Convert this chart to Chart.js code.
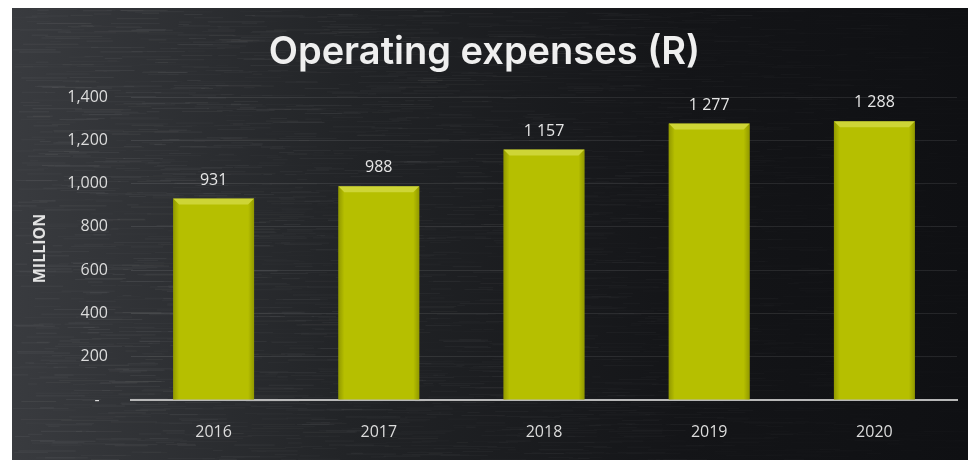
<!DOCTYPE html>
<html>
<head>
<meta charset="utf-8">
<title>Operating expenses (R)</title>
<script src="https://cdn.jsdelivr.net/npm/chart.js@4.4.1/dist/chart.umd.min.js"></script>
<style>
  html, body { margin: 0; padding: 0; background: #fff; }
  #wrap { width: 970px; height: 460px; }
</style>
</head>
<body>
<div id="wrap"><canvas id="grafico-despesas" width="970" height="460"></canvas></div>
<script>
var years = ["2016", "2017", "2018", "2019", "2020"];
var expenses = [931, 988, 1157, 1277, 1288];
var yTicks = [0, 200, 400, 600, 800, 1000, 1200, 1400];

// chalkboard backdrop, built once
var board = document.createElement("canvas");
board.width = 956;
board.height = 452;
var bctx = board.getContext("2d");
var shade = bctx.createLinearGradient(0, 0, 956, 0);
shade.addColorStop(0, "#393b3f");
shade.addColorStop(0.35, "#222427");
shade.addColorStop(0.7, "#141518");
shade.addColorStop(1, "#0f1013");
bctx.fillStyle = shade;
bctx.fillRect(0, 0, 956, 452);
var seed = 11;
function rnd() {
    seed = (seed * 16807) % 2147483647;
    return seed / 2147483647;
}
for (var i = 0; i < 4000; i++) {
    var sx = rnd() * 956, sy = rnd() * 452;
    var fade = 1 - 0.8 * sx / 956;
    bctx.fillStyle = "rgba(255,255,255," + ((0.015 + 0.05 * rnd()) * fade).toFixed(3) + ")";
    bctx.fillRect(sx, sy, 8 + rnd() * 50, 1);
}

function spaced(v) {
    return String(v).replace(/\B(?=(\d{3})+(?!\d))/g, " ");
}

var backdrop = {
    id: "backdrop",
    beforeDraw: function (chart) {
        var ctx = chart.ctx;
        ctx.save();
        ctx.fillStyle = "#ffffff";
        ctx.fillRect(0, 0, chart.width, chart.height);
        ctx.drawImage(board, 12, 8);
        ctx.restore();
    }
};

// bevelled edges on each bar
var bevel = {
    id: "bevel",
    afterDatasetsDraw: function (chart) {
        var ctx = chart.ctx;
        chart.getDatasetMeta(0).data.forEach(function (bar) {
            var p = bar.getProps(["x", "y", "base", "width"], true);
            var l = p.x - p.width / 2, r = p.x + p.width / 2, t = p.y, b = p.base, s = 6;
            ctx.save();
            ctx.fillStyle = "rgba(235,240,120,0.45)";
            ctx.beginPath();
            ctx.moveTo(l, t); ctx.lineTo(r, t); ctx.lineTo(r - s, t + s); ctx.lineTo(l + s, t + s);
            ctx.closePath();
            ctx.fill();
            var gl = ctx.createLinearGradient(l, 0, l + s, 0);
            gl.addColorStop(0, "rgba(90,95,0,0.4)");
            gl.addColorStop(1, "rgba(90,95,0,0)");
            ctx.fillStyle = gl;
            ctx.beginPath();
            ctx.moveTo(l, t); ctx.lineTo(l + s, t + s); ctx.lineTo(l + s, b); ctx.lineTo(l, b);
            ctx.closePath();
            ctx.fill();
            var gr = ctx.createLinearGradient(r, 0, r - s, 0);
            gr.addColorStop(0, "rgba(90,95,0,0.4)");
            gr.addColorStop(1, "rgba(90,95,0,0)");
            ctx.fillStyle = gr;
            ctx.beginPath();
            ctx.moveTo(r, t); ctx.lineTo(r - s, t + s); ctx.lineTo(r - s, b); ctx.lineTo(r, b);
            ctx.closePath();
            ctx.fill();
            ctx.restore();
        });
    }
};

var valueLabels = {
    id: "valueLabels",
    afterDatasetsDraw: function (chart) {
        var ctx = chart.ctx;
        ctx.save();
        ctx.font = "16px 'Open Sans'";
        ctx.fillStyle = "#e6e6e6";
        ctx.textAlign = "center";
        ctx.textBaseline = "alphabetic";
        chart.getDatasetMeta(0).data.forEach(function (bar, i) {
            ctx.fillText(spaced(expenses[i]), bar.x, bar.y - 14);
        });
        ctx.restore();
    }
};

var referencia = document.querySelector("#grafico-despesas").getContext("2d");

var graficoDespesas = new Chart(referencia, {
    type: 'bar',
    data: {
        labels: years,
        datasets: [{
            label: "Operating expenses",
            data: expenses,
            backgroundColor: "#b6bf00",
            borderWidth: 0,
            categoryPercentage: 1,
            barPercentage: 0.49
        }]
    },
    options: {
        responsive: false,
        animation: false,
        layout: { padding: { left: 12, right: 13, top: 0, bottom: 0 } },
        plugins: {
            legend: { display: false },
            tooltip: { enabled: false },
            title: {
                display: true,
                text: "Operating expenses (R)",
                color: "#efefef",
                font: { family: "Inter", size: 38, weight: 600 },
                padding: { top: 30, bottom: 21.4 }
            }
        },
        scales: {
            x: {
                grid: { display: false },
                border: { display: true, color: "#b8b8b8", width: 2 },
                ticks: { color: "#dcdcdc", font: { family: "Open Sans", size: 16 }, padding: 15 },
                afterFit: function (scale) { scale.height = 60; }
            },
            y: {
                min: 0,
                max: 1400,
                afterBuildTicks: function (scale) {
                    scale.ticks = yTicks.map(function (v) { return { value: v }; });
                },
                grid: { color: "rgba(255,255,255,0.09)", drawTicks: false },
                border: { display: false },
                ticks: {
                    color: "#dcdcdc",
                    font: { family: "Open Sans", size: 16 },
                    padding: 23,
                    callback: function (v) { return v === 0 ? "-  " : v.toLocaleString("en-US"); }
                },
                title: {
                    display: true,
                    text: "MILLION",
                    color: "#e2e2e2",
                    font: { family: "Open Sans", size: 16, weight: "bold" },
                    padding: { top: 19, bottom: 0 }
                },
                afterFit: function (scale) { scale.width = 119; }
            }
        }
    },
    plugins: [backdrop, bevel, valueLabels]
});
</script>
</body>
</html>
